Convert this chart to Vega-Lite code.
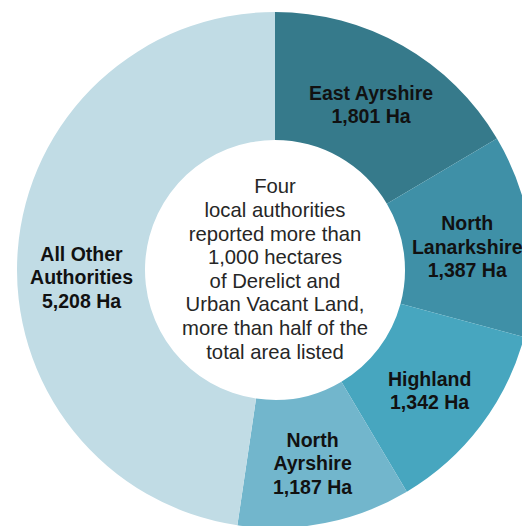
{
  "$schema": "https://vega.github.io/schema/vega-lite/v6.json",
  "width": 522,
  "height": 526,
  "autosize": "none",
  "padding": {"left": 14, "top": 7, "right": -14, "bottom": -7},
  "background": "white",
  "config": {"view": {"stroke": null}, "font": "Liberation Sans"},
  "layer": [
    {
      "data": {"values": [
        {"name": "East Ayrshire", "value": 1801, "rank": 1, "label": "East Ayrshire\n1,801 Ha"},
        {"name": "North Lanarkshire", "value": 1387, "rank": 2, "label": "North\nLanarkshire\n1,387 Ha"},
        {"name": "Highland", "value": 1342, "rank": 3, "label": "Highland\n1,342 Ha"},
        {"name": "North Ayrshire", "value": 1187, "rank": 4, "label": "North\nAyrshire\n1,187 Ha"},
        {"name": "All Other Authorities", "value": 5208, "rank": 5, "label": "All Other\nAuthorities\n5,208 Ha"}
      ]},
      "encoding": {
        "theta": {"field": "value", "type": "quantitative", "stack": true},
        "order": {"field": "rank", "type": "quantitative", "sort": "ascending"}
      },
      "layer": [
        {
          "mark": {"type": "arc", "innerRadius": 130, "outerRadius": 258},
          "encoding": {
            "color": {
              "field": "name", "type": "nominal", "legend": null,
              "scale": {
                "domain": ["East Ayrshire", "North Lanarkshire", "Highland", "North Ayrshire", "All Other Authorities"],
                "range": ["#367a8b", "#3f90a7", "#47a6bf", "#72b6cc", "#c1dce5"]
              }
            }
          }
        },
        {
          "mark": {"type": "text", "radius": 194, "dy": -7.5, "fontSize": 19.5, "fontWeight": "bold", "lineBreak": "\n", "lineHeight": 23.5, "align": "center", "baseline": "middle", "color": "#111111"},
          "encoding": {"text": {"condition": {"test": "datum.name == 'East Ayrshire' || datum.name == 'Highland'", "field": "label"}, "value": ""}}
        },
        {
          "mark": {"type": "text", "radius": 194, "dy": -19.5, "fontSize": 19.5, "fontWeight": "bold", "lineBreak": "\n", "lineHeight": 23.5, "align": "center", "baseline": "middle", "color": "#111111"},
          "encoding": {"text": {"condition": {"test": "datum.name == 'North Lanarkshire' || datum.name == 'North Ayrshire'", "field": "label"}, "value": ""}}
        },
        {
          "mark": {"type": "text", "radius": 194, "dy": -1, "fontSize": 19.5, "fontWeight": "bold", "lineBreak": "\n", "lineHeight": 23.5, "align": "center", "baseline": "middle", "color": "#111111"},
          "encoding": {"text": {"condition": {"test": "datum.name == 'All Other Authorities'", "field": "label"}, "value": ""}}
        }
      ]
    },
    {
      "data": {"values": [
        {"note": "Four\nlocal authorities\nreported more than\n1,000 hectares\n of Derelict and\nUrban Vacant Land,\nmore than half of the\ntotal area listed"}
      ]},
      "mark": {"type": "text", "fontSize": 20.3, "dy": -82.6, "lineBreak": "\n", "lineHeight": 23.6, "align": "center", "baseline": "middle", "color": "#262626"},
      "encoding": {"text": {"field": "note", "type": "nominal"}}
    }
  ]
}
